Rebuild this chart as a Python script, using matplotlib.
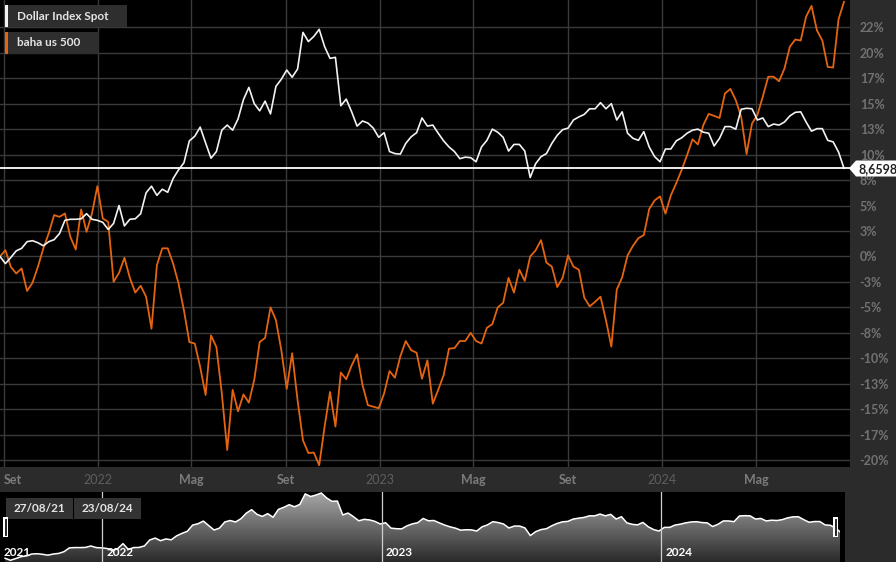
import numpy as np
import pandas as pd
import matplotlib
matplotlib.use("Agg")
import matplotlib.pyplot as plt
import matplotlib.dates as mdates
from matplotlib.patches import Rectangle, Polygon
from matplotlib.colors import LinearSegmentedColormap

plt.rcParams['font.family'] = ['Lato', 'DejaVu Sans']

# -------------------------------------------------
# DATA (weekly % change since 27/08/21)
# -------------------------------------------------
dates = pd.date_range("2021-08-27", "2024-08-23", freq="7D")

dollar_index = [
    0.0, -0.7, -0.1, 0.55, 0.8, 1.45, 1.55, 1.35, 1.05, 1.45, 1.65, 2.25, 3.55, 3.65,
    3.65, 3.7, 4.2, 3.65, 3.55, 3.35, 2.65, 3.25, 5.0, 3.0, 3.65, 3.7, 4.2,
    6.25, 6.9, 6.0, 6.6, 6.3, 7.65, 8.5, 9.2, 11.35, 11.8, 12.7, 11.15, 9.65, 10.3,
    12.4, 12.9, 12.4, 13.5, 15.4, 16.6, 15.0, 14.3, 15.25, 14.0, 16.7, 17.4,
    18.3, 17.6, 18.4, 22.0, 21.1, 21.6, 22.3, 20.6, 19.45, 19.55, 14.8, 15.45, 14.2,
    12.8, 13.3, 13.1, 12.6, 11.7, 12.15, 10.3, 10.1, 10.05, 11.1, 11.75, 12.15,
    13.6, 12.8, 12.9, 12.1, 11.35, 10.75, 10.3, 9.6, 9.75, 9.7, 9.3, 10.75, 11.4,
    12.5, 12.2, 11.7, 10.35, 11.0, 11.0, 10.35, 7.75, 9.1, 9.8, 10.1, 11.1, 11.9,
    12.45, 12.6, 13.4, 13.7, 13.95, 14.5, 14.5, 15.1, 14.5, 15.0, 13.4, 14.2, 12.1,
    11.6, 11.4, 12.25, 10.75, 9.8, 9.3, 10.55, 10.55, 11.35, 11.65, 12.1, 12.4, 12.5,
    12.2, 12.1, 10.85, 11.6, 12.75, 12.75, 12.5, 14.45, 14.55, 14.5, 13.4, 13.6,
    12.75, 13.0, 12.9, 13.2, 13.8, 14.15, 14.2, 13.2, 12.3, 12.55, 12.55, 11.4,
    11.25, 10.25, 8.6598,
]

baha_us500 = [
    0.0, 0.62, -1.02, -1.67, -1.18, -3.38, -2.59, -1.02, 0.78, 2.26, 4.06, 3.89, 4.22,
    1.93, 0.68, 4.61, 2.42, 4.22, 6.9, 3.73, 3.4, -2.49, -1.61, -0.13, -2.1, -3.54, -2.88,
    -3.95, -7.1, -0.85, 0.8, 0.8, -0.7, -2.65, -5.3, -8.4, -8.55, -10.85, -13.6, -7.75,
    -8.9, -13.45, -19.0, -13.1, -15.2, -13.55, -14.35, -12.1, -8.4, -8.0, -5.0, -6.25, -9.2,
    -13.0, -9.5, -14.1, -18.05, -19.3, -19.25, -20.5, -16.7, -13.3, -16.7, -11.4, -12.05,
    -10.7, -9.6, -12.6, -14.6, -14.75, -14.9, -13.45, -11.25, -11.9, -9.8, -8.3, -9.2, -9.45,
    -12.0, -10.2, -14.45, -13.1, -11.65, -9.05, -9.0, -8.3, -8.3, -7.5, -8.3, -8.55, -7.0,
    -6.65, -5.0, -4.55, -2.1, -3.55, -1.3, -2.4, 0.0, 0.6, 1.6, -0.6, -1.0, -3.0,
    -2.1, 0.1, -1.0, -1.3, -4.05, -4.9, -4.45, -3.95, -6.25, -8.85, -3.25, -2.05, 0.1,
    1.05, 1.8, 2.1, 4.65, 5.5, 5.9, 4.2, 6.0, 7.2, 8.5, 9.95, 11.5, 11.0,
    12.9, 14.0, 13.8, 13.6, 16.0, 16.45, 15.35, 13.7, 10.05, 13.05, 13.9, 15.7, 17.65,
    17.65, 17.2, 18.45, 20.6, 21.3, 21.2, 23.55, 24.6, 22.2, 21.2, 18.6, 18.55, 23.3, 25.0,
]

series_names = ["Dollar Index Spot", "baha us 500"]
last_value_label = "8,6598%"

y_ticks = np.arange(-20, 22.6, 2.5)
y_tick_labels = ["-20%", "-17%", "-15%", "-13%", "-10%", "-8%", "-5%", "-3%", "0%",
                 "3%", "5%", "8%", "10%", "13%", "15%", "17%", "20%", "22%"]

x_tick_dates = ["2021-09-01", "2022-01-01", "2022-05-01", "2022-09-01", "2023-01-01",
                "2023-05-01", "2023-09-01", "2024-01-01", "2024-05-01"]
x_tick_labels = ["Set", "2022", "Mag", "Set", "2023", "Mag", "Set", "2024", "Mag"]

nav_years = ["2022-01-01", "2023-01-01", "2024-01-01"]
range_labels = ["27/08/21", "23/08/24"]

# -------------------------------------------------
# STYLE
# -------------------------------------------------
W, H = 896, 562
BG = "#2b2b2b"
WHITE = "#f2f2f2"
ORANGE = "#e5640f"
GRID = "#3a3a3a"


def fx(x):
    return x / W


def fy(y):
    return 1 - y / H


fig = plt.figure(figsize=(W / 100, H / 100), dpi=100, facecolor=BG)

# -------------------------------------------------
# MAIN CHART
# -------------------------------------------------
ax = fig.add_axes([0, fy(467), fx(850), 467 / H], facecolor="black")
ax.plot(dates, baha_us500, color=ORANGE, lw=1.3, zorder=3)
ax.plot(dates, dollar_index, color=WHITE, lw=1.2, zorder=4)
ax.axhline(dollar_index[-1], color="white", lw=1.3, zorder=5)

ax.set_xlim(mdates.date2num(dates[0]), mdates.date2num(dates[-1]) + 7.8)
ax.set_ylim(-20.67, 25.18)

ax.set_yticks(y_ticks)
ax.set_yticklabels(y_tick_labels)
ax.yaxis.tick_right()
ax.tick_params(axis="y", length=0, pad=7, labelsize=9, labelcolor="#727272")
for lab in ax.get_yticklabels():
    lab.set_fontweight("bold")

ax.set_xticks(mdates.date2num(pd.to_datetime(x_tick_dates)))
ax.set_xticklabels(x_tick_labels)
ax.tick_params(axis="x", length=0, pad=5, labelsize=9)
for lab in ax.get_xticklabels():
    if lab.get_text().isdigit():
        lab.set_color("#5e5e5e")
    else:
        lab.set_color("#7c7c7c")
        lab.set_fontweight("bold")
# first label sits against the left edge
ax.get_xticklabels()[0].set_horizontalalignment("left")

ax.grid(True, color=GRID, lw=1)
ax.set_axisbelow(True)
for s in ax.spines.values():
    s.set_visible(False)

# legend boxes
legend_items = [(series_names[0], WHITE, 5, 127), (series_names[1], ORANGE, 32, 99)]
for name, col, top, right in legend_items:
    fig.add_artist(Rectangle((fx(8), fy(top + 22)), fx(right - 8), 22 / H,
                             transform=fig.transFigure, color="#2e2e2e", lw=0))
    fig.add_artist(Rectangle((fx(5), fy(top + 22)), fx(3), 22 / H,
                             transform=fig.transFigure, color=col, lw=0))
    fig.text(fx(16.5), fy(top + 11), name, color="#e4e4e4", fontsize=8.5,
             fontweight="bold", va="center", ha="left")

# last value marker (runs off the right edge, as in the source chart)
pts = [(849, 168.3), (856, 160.5), (900, 160.5), (900, 176.5), (856, 176.5)]
fig.add_artist(Polygon([(fx(x), fy(y)) for x, y in pts], closed=True,
                       transform=fig.transFigure, facecolor="white", lw=0))
fig.text(fx(858), fy(168.8), last_value_label, color="#222222", fontsize=9,
         fontweight="bold", va="center", ha="left")

# -------------------------------------------------
# NAVIGATOR
# -------------------------------------------------
nav = fig.add_axes([0, 0, fx(840), 70 / H], facecolor="black")
x0 = mdates.date2num(pd.Timestamp("2022-01-01")) - 133.6
x1 = mdates.date2num(pd.Timestamp("2024-01-01")) + 233.4
ylo, yhi = -1.28, 22.64
nav.set_xlim(x0, x1)
nav.set_ylim(ylo, yhi)

dnum = mdates.date2num(dates)
cmap = LinearSegmentedColormap.from_list("nav", ["#2a2a2a", "#a8a8a8"])
grad = np.linspace(0, 1, 256).reshape(-1, 1)
im = nav.imshow(grad, extent=[x0, x1, ylo, yhi], origin="lower", aspect="auto",
                cmap=cmap, zorder=1)
fill = nav.fill_between(dnum, dollar_index, ylo, color="none", lw=0)
im.set_clip_path(fill.get_paths()[0], transform=nav.transData)
nav.plot(dnum, dollar_index, color="white", lw=1.1, zorder=3)

for d in nav_years:
    nav.axvline(mdates.date2num(pd.Timestamp(d)), color="#cfcfcf", lw=0.9, zorder=4)

nav.set_xticks([])
nav.set_yticks([])
for s in nav.spines.values():
    s.set_visible(False)

for txt, xp in [("2021", 4), ("2022", 107), ("2023", 386), ("2024", 666)]:
    fig.text(fx(xp), fy(552), txt, color="white", fontsize=8.5, fontweight="bold",
             va="center", ha="left", zorder=6)

for txt, left in [(range_labels[0], 6), (range_labels[1], 74)]:
    fig.add_artist(Rectangle((fx(left), fy(519)), fx(67), 21 / H,
                             transform=fig.transFigure, color="#333333", lw=0))
    fig.text(fx(left + 33.5), fy(508.5), txt, color="#e4e4e4", fontsize=8.5,
             fontweight="bold", va="center", ha="center")

# handles
for left in [3, 833]:
    fig.add_artist(Rectangle((fx(left), fy(537)), fx(5), 20 / H,
                             transform=fig.transFigure, color="white", lw=0, zorder=5))
    for xl in [left + 1.6, left + 3.3]:
        fig.add_artist(plt.Line2D([fx(xl), fx(xl)], [fy(535), fy(519)],
                                  transform=fig.transFigure, color="black", lw=0.6, zorder=6))

fig.add_artist(Rectangle((fx(840), 0), fx(5), 70 / H, transform=fig.transFigure,
                         color="black", lw=0))

fig.savefig("out.png", dpi=100, facecolor=BG)
